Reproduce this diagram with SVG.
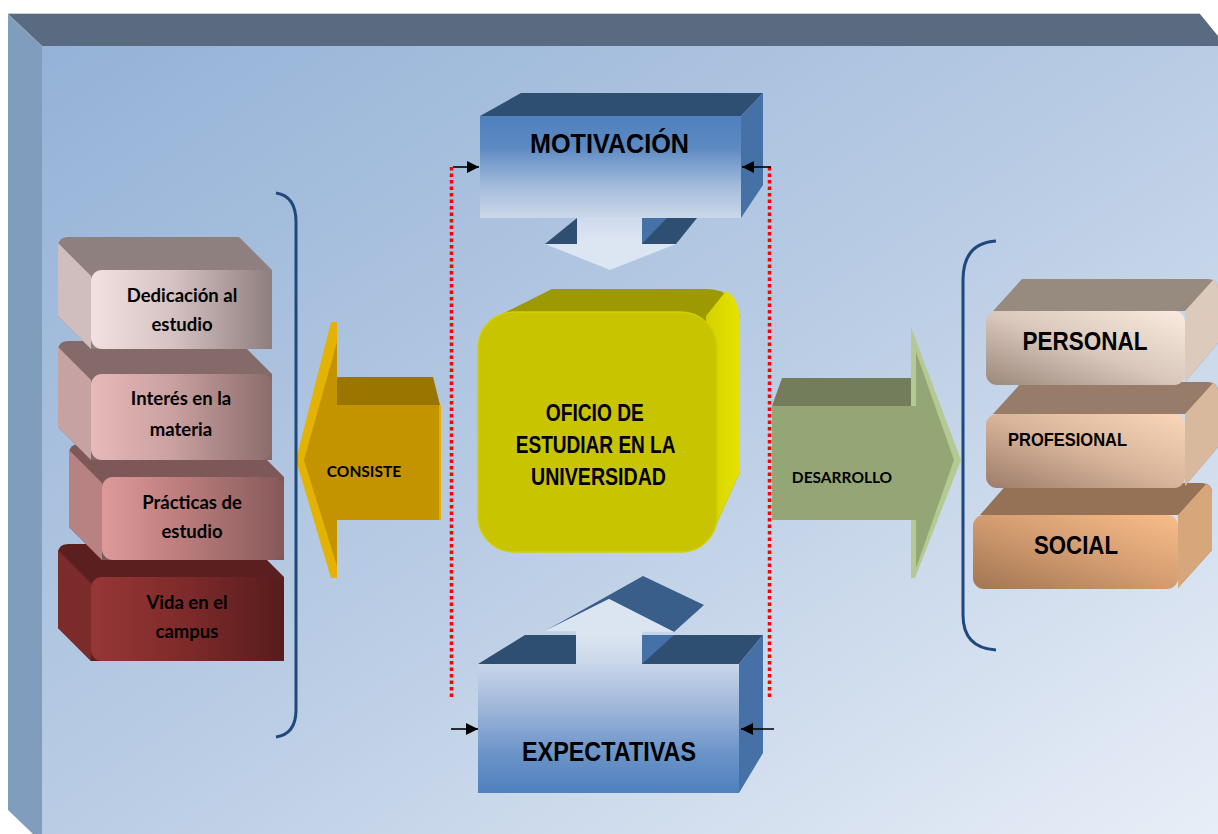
<svg xmlns="http://www.w3.org/2000/svg" width="1218" height="834" viewBox="0 0 1218 834">
<defs>
<style>
.nar{font-family:'Liberation Sans Narrow','Arial Narrow','Liberation Sans',sans-serif;font-weight:bold;fill:#000}
.cal{font-family:Lato,'Open Sans','Liberation Sans',sans-serif;font-weight:bold;fill:#000}
.dot{fill:none;stroke:#ff0000;stroke-width:3.5;stroke-dasharray:3.5 3}
.arr{fill:none;stroke:#000;stroke-width:1.6}
.brk{fill:none;stroke:#1f497d;stroke-width:3}
</style>
<marker id="ah" viewBox="0 0 10 10" refX="10" refY="5" markerWidth="12" markerHeight="13" markerUnits="userSpaceOnUse" orient="auto">
<path d="M0,0 L10,5 L0,10 Z" fill="#000"/>
</marker>
<linearGradient id="bg" x1="0" y1="0" x2="1" y2="1">
<stop offset="0" stop-color="#94b2d7"/><stop offset="0.5" stop-color="#b9cce4"/><stop offset="1" stop-color="#e8eef7"/>
</linearGradient>
<linearGradient id="motF" x1="0" y1="0" x2="0" y2="1">
<stop offset="0" stop-color="#4f81bd"/><stop offset="0.3" stop-color="#5c89c2"/><stop offset="0.7" stop-color="#a5bddc"/><stop offset="1" stop-color="#cbd8ea"/>
</linearGradient>
<linearGradient id="motS" x1="0" y1="0" x2="0" y2="1">
<stop offset="0" stop-color="#cdd9eb"/><stop offset="1" stop-color="#dfe7f3"/>
</linearGradient>
<linearGradient id="expF" x1="0" y1="0" x2="0" y2="1">
<stop offset="0" stop-color="#c8d6ea"/><stop offset="0.35" stop-color="#9db5d9"/><stop offset="0.7" stop-color="#6a93c8"/><stop offset="1" stop-color="#4f81bd"/>
</linearGradient>
<linearGradient id="expS" x1="0" y1="0" x2="0" y2="1">
<stop offset="0" stop-color="#dde6f2"/><stop offset="1" stop-color="#c9d6e9"/>
</linearGradient>
<linearGradient id="yelR" x1="0" y1="0" x2="1" y2="0">
<stop offset="0" stop-color="#d4d100"/><stop offset="1" stop-color="#e6e300"/>
</linearGradient>
<linearGradient id="f1" x1="0" y1="0" x2="1" y2="0"><stop offset="0" stop-color="#f3e1e1"/><stop offset="0.45" stop-color="#d6c2c2"/><stop offset="1" stop-color="#8f7e7e"/></linearGradient>
<linearGradient id="f2" x1="0" y1="0" x2="1" y2="0"><stop offset="0" stop-color="#e8b9b9"/><stop offset="0.45" stop-color="#caa0a0"/><stop offset="1" stop-color="#8b6c6c"/></linearGradient>
<linearGradient id="f3" x1="0" y1="0" x2="1" y2="0"><stop offset="0" stop-color="#de9a9a"/><stop offset="0.45" stop-color="#bb7c7c"/><stop offset="1" stop-color="#855959"/></linearGradient>
<linearGradient id="f4" x1="0" y1="0" x2="1" y2="0"><stop offset="0" stop-color="#973636"/><stop offset="0.5" stop-color="#7e2a2a"/><stop offset="1" stop-color="#561c1c"/></linearGradient>
<linearGradient id="p1" x1="0" y1="1" x2="1" y2="0"><stop offset="0" stop-color="#9a897b"/><stop offset="0.5" stop-color="#d9c8bb"/><stop offset="1" stop-color="#fbebe0"/></linearGradient>
<linearGradient id="p2" x1="0" y1="1" x2="1" y2="0"><stop offset="0" stop-color="#9c7c6a"/><stop offset="0.5" stop-color="#d8b49a"/><stop offset="1" stop-color="#fbd6b8"/></linearGradient>
<linearGradient id="p3" x1="0" y1="1" x2="1" y2="0"><stop offset="0" stop-color="#a17552"/><stop offset="0.5" stop-color="#d39c70"/><stop offset="1" stop-color="#f8bd8a"/></linearGradient>
</defs>

<g id="frame">
<rect x="0" y="0" width="1218" height="834" fill="#ffffff"/>
<rect x="42" y="46" width="1176" height="788" fill="url(#bg)"/>
<polygon points="8,14 1200,14 1218,36 1218,46 42,46" fill="#5a6a81"/>
<polygon points="8,14 42,46 42,834 33,834 8,810" fill="#809dbd"/>
<line x1="8" y1="13.5" x2="1200" y2="13.5" stroke="#c9ced6" stroke-width="1"/>
</g>

<g id="node-motivacion">
<polygon points="480,116 521,93 763,93 741,116" fill="#2e4e72"/>
<polygon points="741,116 763,93 763,185 741,218" fill="#4571a6"/>
<rect x="480" y="116" width="261" height="102" fill="url(#motF)"/>
<polygon points="577,218 577,244 545,244" fill="#2e4e72"/>
<polygon points="642,218 697,218 676,244 642,244" fill="#2e4e72"/>
<polygon points="642,218 667,218 642,244" fill="#4571a6"/>
<rect x="577" y="217" width="65" height="27.5" fill="url(#motS)"/>
<polygon points="545,244 676,244 610,270" fill="#dce5f2"/>
<text class="nar" x="609.5" y="153" font-size="28" text-anchor="middle" textLength="159" lengthAdjust="spacingAndGlyphs">MOTIVACIÓN</text>
</g>

<g id="node-expectativas">
<polygon points="545,631 643,576 704,605 674,632 609,599" fill="#3a5e8a"/>
<polygon points="545,631 609,599 674,632" fill="#dbe4f1"/>
<rect x="576" y="631" width="66" height="34" fill="url(#expS)"/>
<polygon points="478,664 525,635 576,635 576,664" fill="#2e4e72"/>
<polygon points="642,635 763,635 739,664 642,664" fill="#2e4e72"/>
<polygon points="642,635 674,635 642,664" fill="#4571a6"/>
<polygon points="739,664 763,635 763,753 739,793" fill="#4571a6"/>
<rect x="478" y="664" width="261" height="129" fill="url(#expF)"/>
<text class="nar" x="609" y="761" font-size="28" text-anchor="middle" textLength="174" lengthAdjust="spacingAndGlyphs">EXPECTATIVAS</text>
</g>

<g id="node-oficio">
<path d="M552,289 L705,289 Q740,289 740,324 L740,472 L716,525 L500,525 L500,315 Z" fill="#9c9a00"/>
<path d="M706,316 L726,291 Q740,298 740,324 L740,472 L716,525 Z" fill="url(#yelR)"/>
<rect x="478" y="312" width="239" height="240" rx="36" fill="#c8c400" stroke="#d2cf00" stroke-width="1.5"/>
<text class="nar" font-size="23" text-anchor="middle">
<tspan x="598" y="421" textLength="98" lengthAdjust="spacingAndGlyphs">OFICIO DE</tspan>
<tspan x="598.5" y="453" textLength="159" lengthAdjust="spacingAndGlyphs">ESTUDIAR EN LA</tspan>
<tspan x="598.5" y="485" textLength="135" lengthAdjust="spacingAndGlyphs">UNIVERSIDAD</tspan>
</text>
</g>

<g id="arrow-consiste">
<polygon points="333,377 433,377 440,405 333,405" fill="#9a7600"/>
<polygon points="331,322 296,460 331,578 337,578 337,322" fill="#e4b200"/>
<polygon points="337,342 304,460 337,566" fill="#c49400"/>
<rect x="335" y="405" width="105" height="115" fill="#c49400"/>
<line x1="440" y1="405" x2="440" y2="520" stroke="#e4b200" stroke-width="2"/>
<text class="cal" x="364" y="477" font-size="15.5" text-anchor="middle">CONSISTE</text>
</g>

<g id="arrow-desarrollo">
<polygon points="772,406 782,378 913,378 913,406" fill="#737d5b"/>
<polygon points="911,327 961,460 915,578 911,578" fill="#b5c994"/>
<polygon points="916,352 954,460 916,568" fill="#95a676"/>
<rect x="772" y="406" width="144" height="114" fill="#95a676"/>
<text class="cal" x="842" y="483" font-size="15.5" text-anchor="middle">DESARROLLO</text>
</g>

<g id="node-vida">
<path d="M68,544 L251,544 L284,577 L284,661 L91,661 L58,628 L58,554 Q58,544 68,544 Z" fill="#5b1f1f"/>
<polygon points="58,550 91,583 91,661 58,628" fill="#7c2b2b"/>
<rect x="91" y="577" width="193" height="84" rx="11" fill="url(#f4)"/>
<text class="cal" font-size="18.5" text-anchor="middle"><tspan x="187" y="609">Vida en el</tspan><tspan x="187" y="638">campus</tspan></text>
</g>

<g id="node-practicas">
<path d="M79,444 L251,444 L284,477 L284,560 L102,560 L69,527 L69,454 Q69,444 79,444 Z" fill="#7e5858"/>
<polygon points="69,450 102,483 102,560 69,527" fill="#b98282"/>
<rect x="102" y="477" width="182" height="83" rx="11" fill="url(#f3)"/>
<text class="cal" font-size="18.5" text-anchor="middle"><tspan x="192" y="509">Prácticas de</tspan><tspan x="192" y="538">estudio</tspan></text>
</g>

<g id="node-interes">
<path d="M68,341 L239,341 L272,374 L272,460 L91,460 L58,427 L58,351 Q58,341 68,341 Z" fill="#856a6a"/>
<polygon points="58,347 91,380 91,460 58,427" fill="#c7a2a2"/>
<rect x="91" y="374" width="181" height="86" rx="11" fill="url(#f2)"/>
<text class="cal" font-size="18.5" text-anchor="middle"><tspan x="181" y="405">Interés en la</tspan><tspan x="181" y="436">materia</tspan></text>
</g>

<g id="node-dedicacion">
<path d="M68,237 L239,237 L272,270 L272,349 L91,349 L58,316 L58,247 Q58,237 68,237 Z" fill="#8f8080"/>
<polygon points="58,243 91,276 91,349 58,316" fill="#d0bdbd"/>
<rect x="91" y="270" width="181" height="79" rx="11" fill="url(#f1)"/>
<text class="cal" font-size="18.5" text-anchor="middle"><tspan x="182" y="302">Dedicación al</tspan><tspan x="182" y="331">estudio</tspan></text>
</g>

<g id="node-social">
<path d="M980,515 L1008,483 L1202,483 Q1212,483 1212,493 L1212,550 L1178,588 L1178,515 Z" fill="#957255"/>
<path d="M1178,515 L1206,484 Q1212,486 1212,493 L1212,550 L1178,588 Z" fill="#d8a67b"/>
<rect x="973" y="515" width="205" height="74" rx="11" fill="url(#p3)"/>
<text class="nar" x="1076" y="554" font-size="26" text-anchor="middle" textLength="84" lengthAdjust="spacingAndGlyphs">SOCIAL</text>
</g>

<g id="node-profesional">
<path d="M993,414 L1022,382 L1208,382 Q1218,382 1218,392 L1218,447 L1185,486 L1185,414 Z" fill="#967c69"/>
<path d="M1185,414 L1213,383 Q1218,385 1218,392 L1218,447 L1185,486 Z" fill="#d9b99d"/>
<rect x="986" y="414" width="199" height="74" rx="11" fill="url(#p2)"/>
<text class="nar" x="1008" y="446" font-size="19" textLength="119" lengthAdjust="spacingAndGlyphs">PROFESIONAL</text>
</g>

<g id="node-personal">
<path d="M993,311 L1022,279 L1208,279 Q1218,279 1218,289 L1218,343 L1185,382 L1185,311 Z" fill="#978a7e"/>
<path d="M1185,311 L1213,280 Q1218,282 1218,289 L1218,343 L1185,382 Z" fill="#dccbbd"/>
<rect x="986" y="311" width="199" height="74" rx="11" fill="url(#p1)"/>
<text class="nar" x="1085" y="350" font-size="26" text-anchor="middle" textLength="125" lengthAdjust="spacingAndGlyphs">PERSONAL</text>
</g>

<g id="connectors">
<path class="brk" d="M276,193 Q296,196 296,222 L296,710 Q296,734 276,737"/>
<path class="brk" d="M996,241 Q963,243 963,280 L963,615 Q963,648 996,650"/>
<line class="dot" x1="451.5" y1="167" x2="451.5" y2="700"/>
<line class="dot" x1="769.5" y1="167" x2="769.5" y2="700"/>
<line class="arr" x1="453" y1="167" x2="479" y2="167" marker-end="url(#ah)"/>
<line class="arr" x1="771" y1="167" x2="742" y2="167" marker-end="url(#ah)"/>
<line class="arr" x1="451" y1="729" x2="478" y2="729" marker-end="url(#ah)"/>
<line class="arr" x1="774" y1="729" x2="741" y2="729" marker-end="url(#ah)"/>
</g>
</svg>
